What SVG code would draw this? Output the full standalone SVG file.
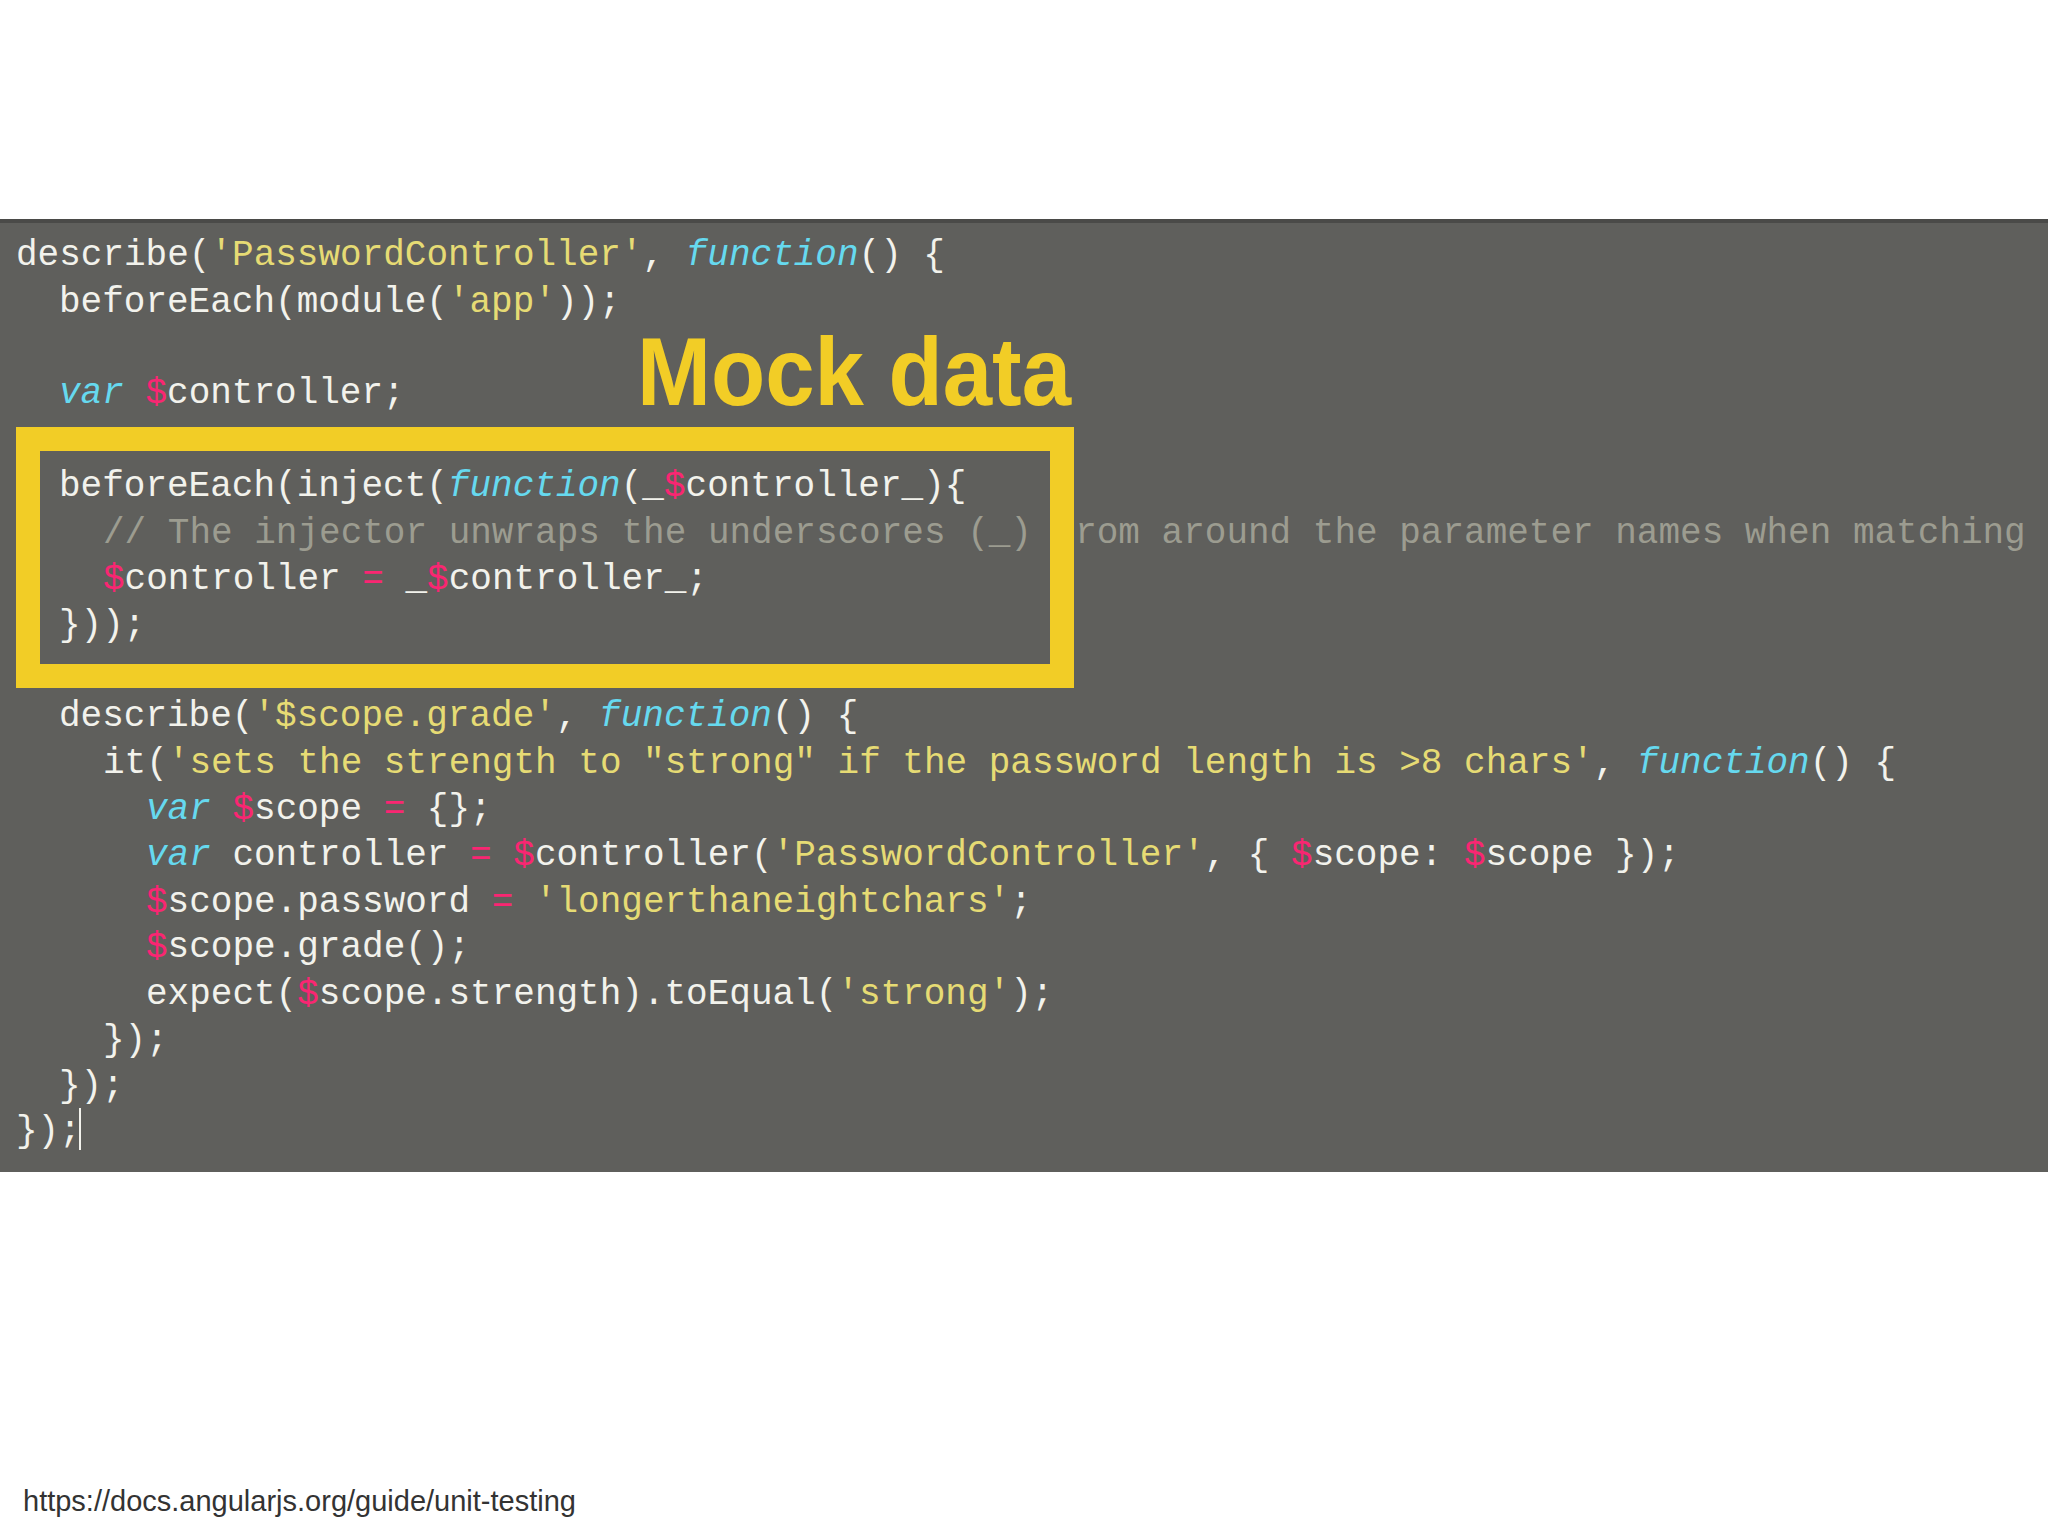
<svg xmlns="http://www.w3.org/2000/svg" width="2048" height="1536" viewBox="0 0 2048 1536">
<style>
.c{font-family:"Liberation Mono","DejaVu Sans Mono",monospace;font-size:36px;fill:#f2f2ec;white-space:pre}
.s{fill:#e6db74}.k{fill:#66d9ef;font-style:italic}.d{fill:#f92672}.m{fill:#9c9c90}
</style>
<rect width="2048" height="1536" fill="#ffffff"/>
<g id="editor">
<rect x="0" y="219" width="2048" height="953" fill="#5f5f5c"/>
<rect x="0" y="219" width="2048" height="4" fill="#4a4a48"/>
</g>
<g id="code" class="c" xml:space="preserve">
<text x="16" y="265">describe(<tspan class="s">'PasswordController'</tspan>, <tspan class="k">function</tspan>() {</text>
<text x="59" y="312">beforeEach(module(<tspan class="s">'app'</tspan>));</text>
<text x="59" y="403"><tspan class="k">var</tspan> <tspan class="d">$</tspan>controller;</text>
<text x="59" y="496">beforeEach(inject(<tspan class="k">function</tspan>(_<tspan class="d">$</tspan>controller_){</text>
<text x="103" y="543" class="m">// The injector unwraps the underscores (_) from around the parameter names when matching</text>
<text x="103" y="589"><tspan class="d">$</tspan>controller <tspan class="d">=</tspan> _<tspan class="d">$</tspan>controller_;</text>
<text x="59" y="635">}));</text>
<text x="59" y="726">describe(<tspan class="s">'$scope.grade'</tspan>, <tspan class="k">function</tspan>() {</text>
<text x="103" y="773">it(<tspan class="s">'sets the strength to "strong" if the password length is &gt;8 chars'</tspan>, <tspan class="k">function</tspan>() {</text>
<text x="146" y="819"><tspan class="k">var</tspan> <tspan class="d">$</tspan>scope <tspan class="d">=</tspan> {};</text>
<text x="146" y="865"><tspan class="k">var</tspan> controller <tspan class="d">=</tspan> <tspan class="d">$</tspan>controller(<tspan class="s">'PasswordController'</tspan>, { <tspan class="d">$</tspan>scope: <tspan class="d">$</tspan>scope });</text>
<text x="146" y="912"><tspan class="d">$</tspan>scope.password <tspan class="d">=</tspan> <tspan class="s">'longerthaneightchars'</tspan>;</text>
<text x="146" y="957"><tspan class="d">$</tspan>scope.grade();</text>
<text x="146" y="1004">expect(<tspan class="d">$</tspan>scope.strength).toEqual(<tspan class="s">'strong'</tspan>);</text>
<text x="103" y="1050">});</text>
<text x="59" y="1096">});</text>
<text x="16" y="1141">});</text>
<rect x="79" y="1108" width="2" height="42" fill="#f2f2ec"/>
</g>
<g id="highlight">
<rect x="28" y="439" width="1034" height="237" fill="none" stroke="#f2cd26" stroke-width="24"/>
<text x="637" y="405" font-family="Liberation Sans, Arial, sans-serif" font-weight="bold" font-size="96" fill="#f2cd26" textLength="434" lengthAdjust="spacingAndGlyphs">Mock data</text>
</g>
<g id="source">
<text x="23" y="1511" font-family="Liberation Sans, Arial, sans-serif" font-size="29" fill="#333333">https://docs.angularjs.org/guide/unit-testing</text>
</g>
</svg>
